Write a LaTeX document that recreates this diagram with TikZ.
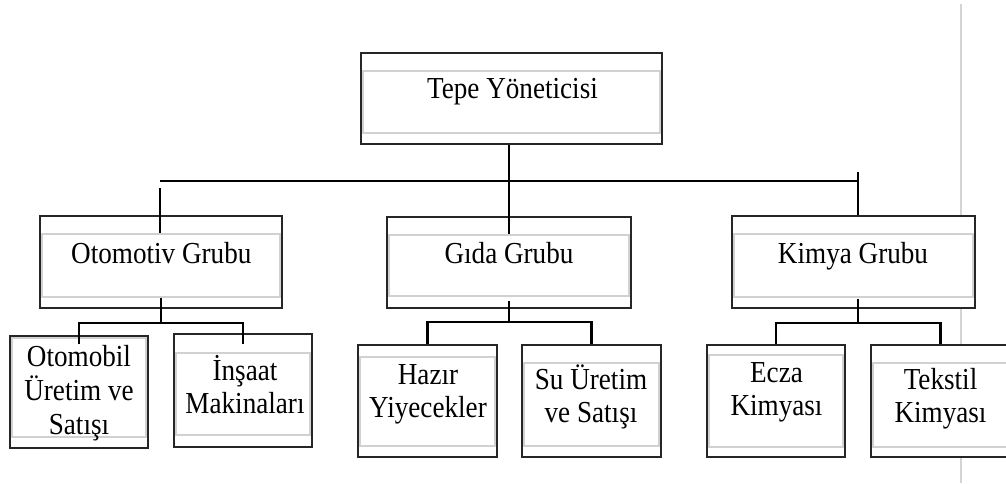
\documentclass[tikz,border=0pt]{standalone}
\usepackage{fontspec}
\setmainfont{Liberation Serif}[FakeStretch=0.89]
\begin{document}
\begin{tikzpicture}[x=1pt,y=-1pt,
  conn/.style={draw=black, line width=2.2pt},
  innerline/.style={draw=black!18, line width=1.3pt},
  box/.style n args={4}{draw=black!85, line width=1.5pt, fill=white, inner sep=0pt,
    minimum width=#1, minimum height=#2,
    path picture={\draw[innerline] ([shift={(2pt,-#3)}]path picture bounding box.north west)
      rectangle ([shift={(-2pt,#4)}]path picture bounding box.south east);}},
  txt/.style={inner sep=0pt, font=\fontsize{30.5}{33.5}\selectfont, anchor=base},
]
\useasboundingbox (0,0) rectangle (1006,483);
% gray page line
\draw[draw=black!17, line width=2pt] (961,4) -- (961,483);

% boxes
\node[box={301pt}{91pt}{18pt}{11pt}] (top) at (511.5,98.5) {};
\node[box={242pt}{92pt}{18pt}{11pt}] (oto) at (161,262) {};
\node[box={244pt}{91pt}{18pt}{12pt}] (gida) at (509,262.5) {};
\node[box={243pt}{92pt}{18pt}{11pt}] (kim) at (853.5,262) {};

\node[box={138pt}{112pt}{2pt}{11pt}] (otomobil) at (79,392) {};
\node[box={138pt}{113pt}{19pt}{12pt}] (insaat) at (243,390.5) {};
\node[box={139pt}{112pt}{12pt}{11pt}] (hazir) at (427.5,401) {};
\node[box={139pt}{112pt}{18pt}{11pt}] (su) at (591.5,401) {};
\node[box={138pt}{112pt}{10pt}{10pt}] (ecza) at (776,401) {};
\node[box={139pt}{112pt}{18pt}{10pt}] (tekstil) at (940.5,401) {};

% texts
\node[txt] (top-t) at (512.5,98) {Tepe Yöneticisi};
\node[txt] (oto-t) at (161.3,263) {Otomotiv Grubu};
\node[txt] (gida-t) at (509,263) {Gıda Grubu};
\node[txt] (kim-t) at (853,263) {Kimya Grubu};
\node[txt] (otomobil-t) at (79,366) {\begin{tabular}[t]{@{}c@{}}Otomobil\\Üretim ve\\Satışı\end{tabular}};
\node[txt] (insaat-t) at (245,380) {\begin{tabular}[t]{@{}c@{}}İnşaat\\Makinaları\end{tabular}};
\node[txt] (hazir-t) at (428,384) {\begin{tabular}[t]{@{}c@{}}Hazır\\Yiyecekler\end{tabular}};
\node[txt] (su-t) at (591,389) {\begin{tabular}[t]{@{}c@{}}Su Üretim\\ve Satışı\end{tabular}};
\node[txt] (ecza-t) at (776.5,382) {\begin{tabular}[t]{@{}c@{}}Ecza\\Kimyası\end{tabular}};
\node[txt] (tekstil-t) at (940.5,389) {\begin{tabular}[t]{@{}c@{}}Tekstil\\Kimyası\end{tabular}};

% first level connectors
\coordinate (barL) at (160,181);
\coordinate (barR) at (858,181);
\coordinate (otoIn) at (160,188);
\coordinate (kimIn) at (858,172);
\draw[conn] (top.south -| gida.north) -- ([yshift=-18pt]gida.north);
\draw[conn] (barL) -- (barR);
\draw[conn] (otoIn) -- (otoIn |- oto.north) -- ++(0,18);
\draw[conn] (kimIn) -- (kimIn |- kim.north);

% second level connectors
\coordinate (otoJ) at (161,323);
\draw[conn] ([yshift=11pt]oto.south) -- (otoJ);
\draw[conn] ([yshift=-9pt]otomobil.north) |- (otoJ) -| ([yshift=-11pt]insaat.north);

\coordinate (gidaJ) at (509,322);
\draw[conn] ([yshift=8pt]gida.south) -- (gidaJ);
\draw[conn] (hazir.north) |- (gidaJ) -| (su.north);

\coordinate (kimB) at (858,299);
\coordinate (kimJ) at (858,323);
\draw[conn] (kimB) -- (kimJ);
\draw[conn] (ecza.north) |- (kimJ) -| (tekstil.north);
\end{tikzpicture}
\end{document}
